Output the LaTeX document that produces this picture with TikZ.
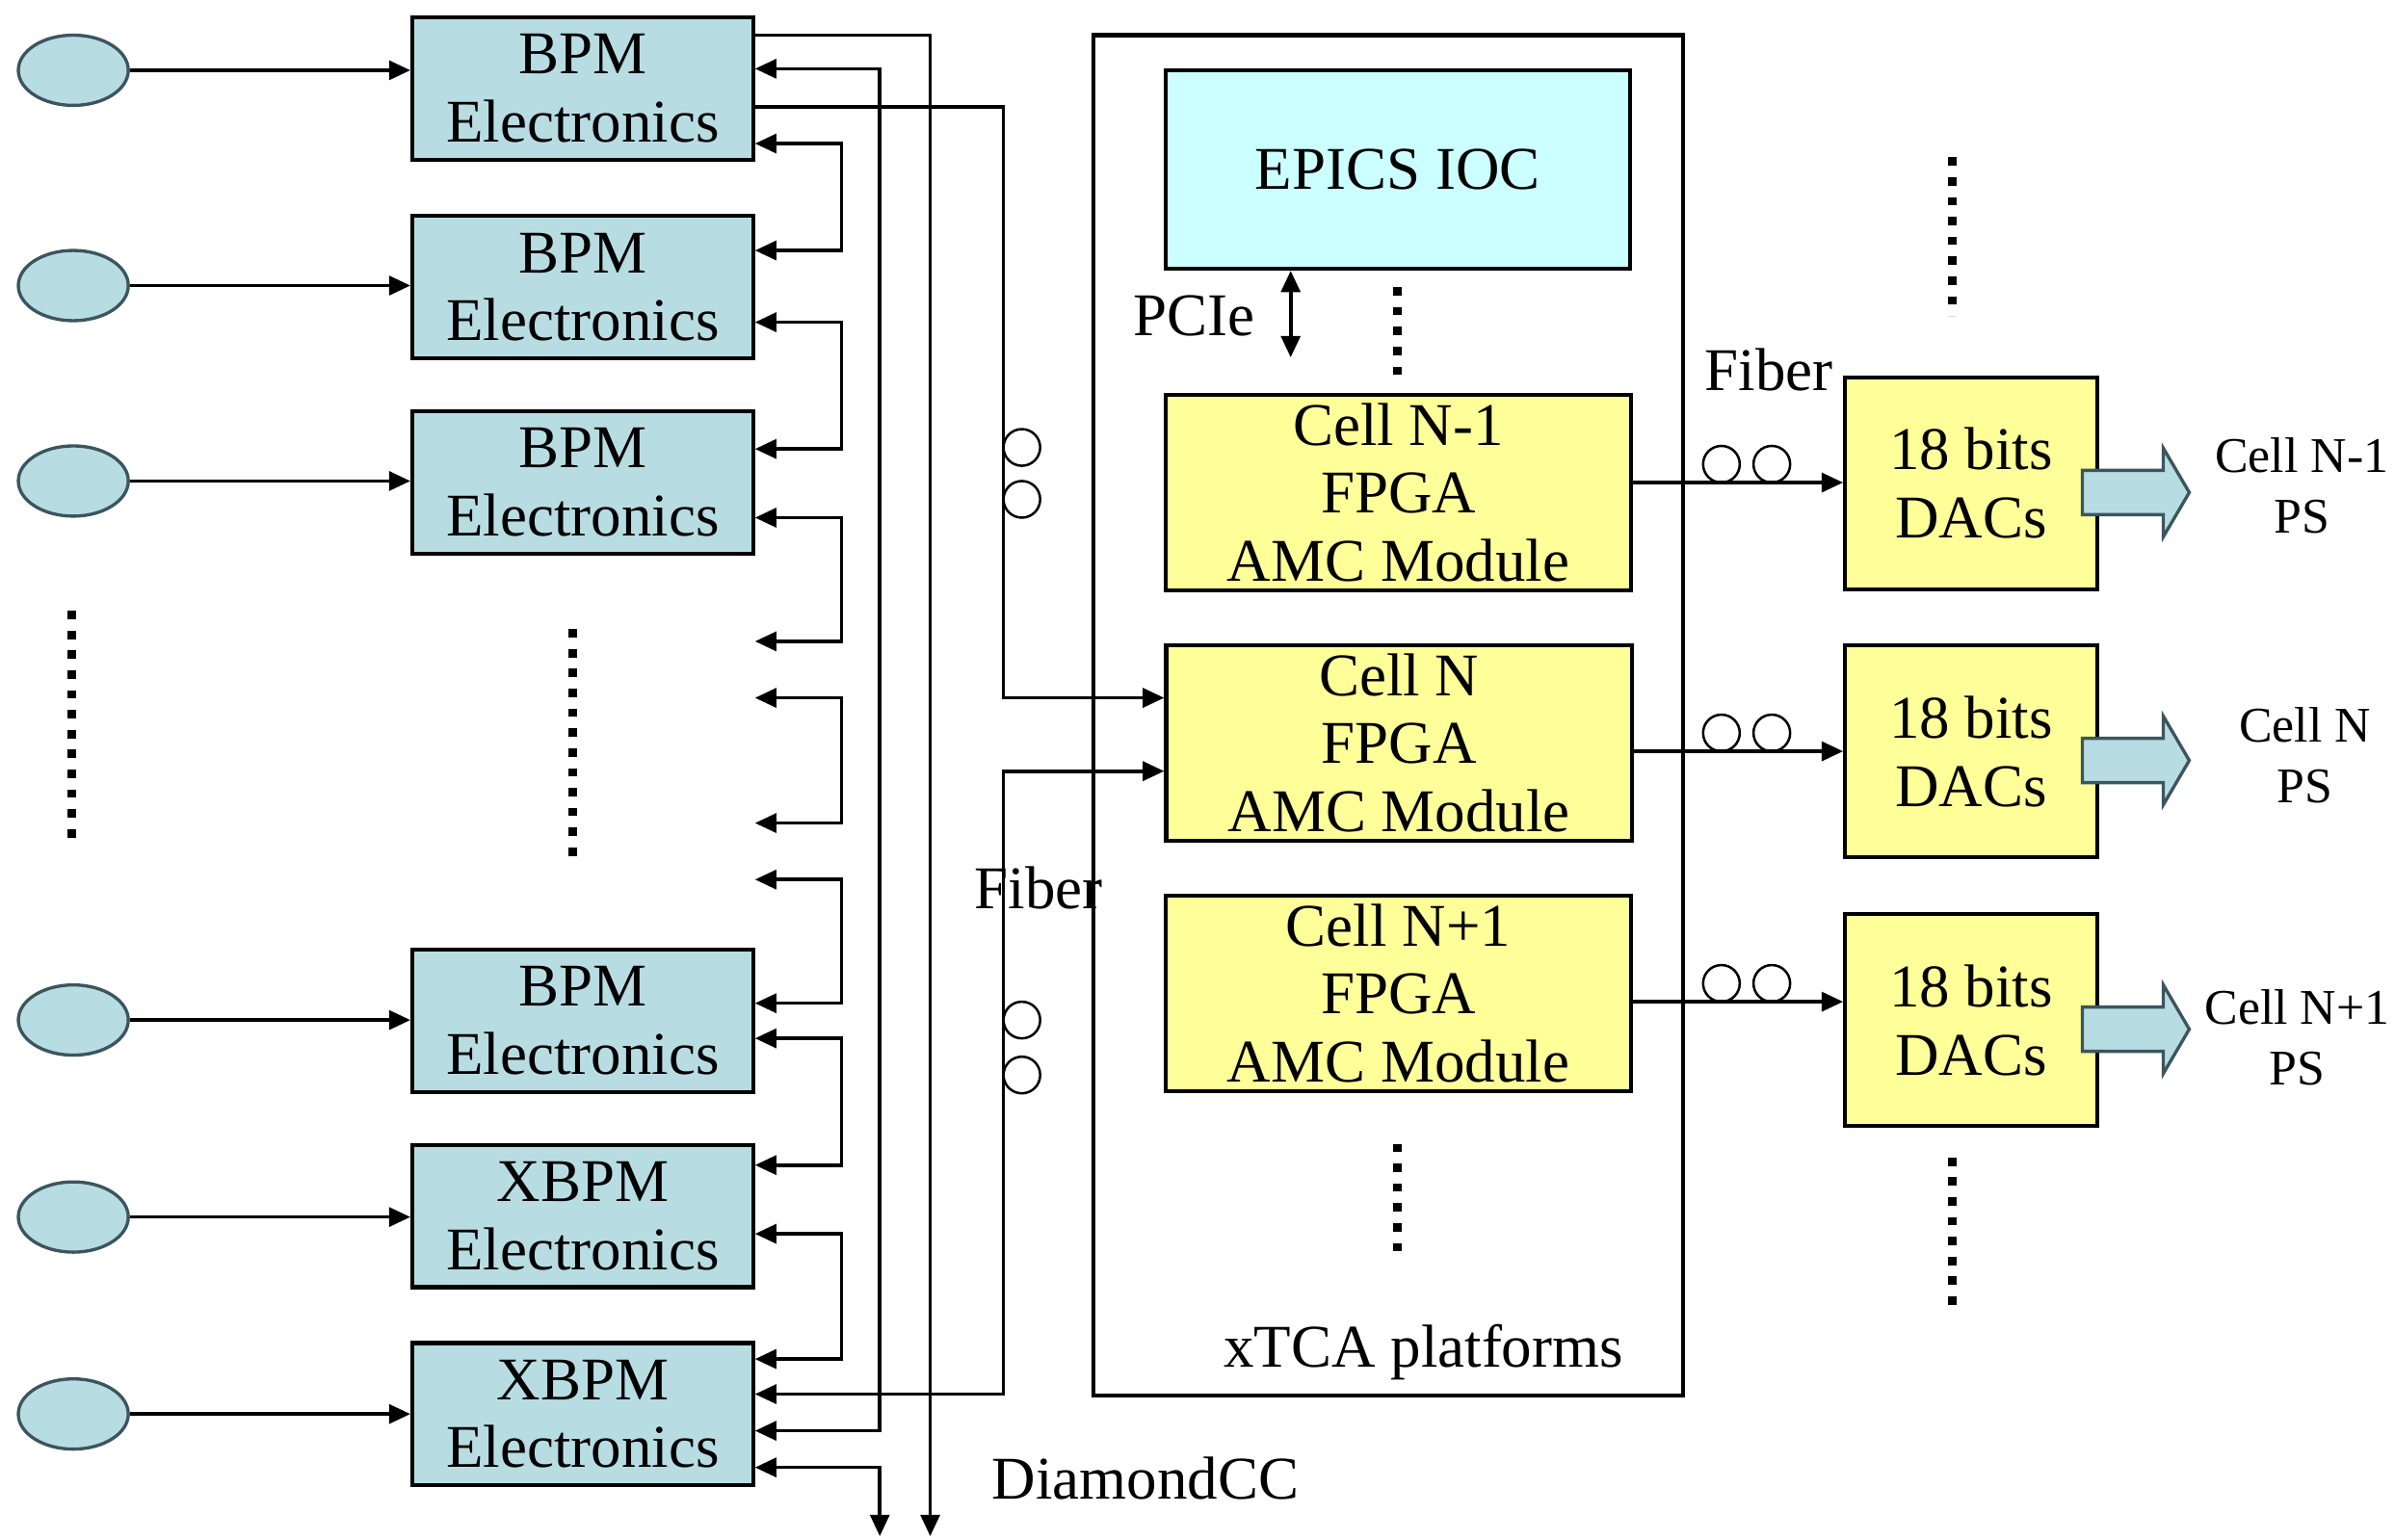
\documentclass[tikz,border=0pt]{standalone}
\usepackage{fontspec}
\setmainfont{Liberation Serif}
\usetikzlibrary{arrows.meta,shapes.geometric}

\definecolor{bpmfill}{RGB}{183,221,227}
\definecolor{iocfill}{RGB}{204,255,255}
\definecolor{amcfill}{RGB}{255,255,153}
\definecolor{rim}{RGB}{60,85,95}

\tikzset{
	>={Triangle[length=1.4mm,width=1.25mm]},
	wire/.style={line width=0.65pt},
	blk/.style={draw, line width=0.75pt, inner sep=0pt, align=center, font=\fontsize{11.3}{12.7}\selectfont},
	bpm/.style={blk, fill=bpmfill, minimum width=22.3mm, minimum height=9.3mm},
	amc/.style={blk, fill=amcfill, minimum width=30.5mm, minimum height=12.8mm},
	dac/.style={blk, fill=amcfill, minimum width=16.5mm, minimum height=13.9mm},
	pickup/.style={ellipse, draw=rim, line width=0.6pt, fill=bpmfill, minimum width=7.2mm, minimum height=4.6mm},
	coil/.style={circle, draw, line width=0.45pt, minimum size=2.4mm, inner sep=0pt},
	txt/.style={inner sep=0pt, font=\fontsize{11.3}{12.7}\selectfont},
	pstxt/.style={inner sep=0pt, align=center, font=\fontsize{9.3}{11.4}\selectfont},
	more/.style={line width=0.55mm, dash pattern=on 0.55mm off 0.75mm},
	fat/.style={draw=rim, line width=0.6pt, fill=bpmfill}
}

\begin{document}
\begin{tikzpicture}[x=0.1mm,y=-0.1mm]
	\def \xloop{ 551 };
	\def \xring{ 576 };
	\def \xcc{ 609 };
	\def \xfib{ 657 };
	\useasboundingbox (0,0) rectangle (1568,1008);

	\node[pickup] (s1) at (48,46) {};
	\node[pickup] (s2) at (48,187) {};
	\node[pickup] (s3) at (48,315) {};
	\node[pickup] (s4) at (48,668) {};
	\node[pickup] (s5) at (48,797) {};
	\node[pickup] (s6) at (48,926) {};
	\node[bpm] (e1) at (381.5,58) {BPM\\Electronics};
	\node[bpm] (e2) at (381.5,188) {BPM\\Electronics};
	\node[bpm] (e3) at (381.5,316) {BPM\\Electronics};
	\node[bpm] (e4) at (381.5,668.5) {BPM\\Electronics};
	\node[bpm] (e5) at (381.5,796.5) {XBPM\\Electronics};
	\node[bpm] (e6) at (381.5,926) {XBPM\\Electronics};

	\node[draw, line width=0.75pt, minimum width=38.6mm, minimum height=89.1mm] (xtca) at (909,468.5) {};
	\node[blk, fill=iocfill, minimum width=30.4mm, minimum height=13mm] (ioc) at (915,111) {EPICS IOC};
	\node[amc] (amcA) at (915.5,322.5) {Cell N-1\\FPGA\\AMC Module};
	\node[amc] (amcB) at (916,486.5) {Cell N\\FPGA\\AMC Module};
	\node[amc] (amcC) at (915.5,650.5) {Cell N+1\\FPGA\\AMC Module};
	\node[dac] (dacA) at (1290.5,316.5) {18 bits\\DACs};
	\node[dac] (dacB) at (1290.5,492) {18 bits\\DACs};
	\node[dac] (dacC) at (1290.5,668) {18 bits\\DACs};
	\node[pstxt] (psA) at (1507,318) {Cell N-1\\PS};
	\node[pstxt] (psB) at (1509,494.5) {Cell N\\PS};
	\node[pstxt] (psC) at (1504,679.5) {Cell N+1\\PS};

	\node[txt, anchor=base] (pcie) at (782,219.5) {PCIe};
	\node[txt, anchor=base] (fibA) at (1158,255.5) {Fiber};
	\node[txt, anchor=base] (fibB) at (680,595) {Fiber};
	\node[txt, anchor=base] (plat) at (932,895.5) {xTCA platforms};
	\node[txt, anchor=base] (dcc) at (750,982) {DiamondCC};

	\coordinate (g1) at (e3.east |- 0,420);
	\coordinate (g2) at (e3.east |- 0,457);
	\coordinate (g3) at (e3.east |- 0,539);
	\coordinate (g4) at (e3.east |- 0,576);
	\coordinate (ccA) at (\xring,1006);
	\coordinate (ccB) at (\xcc,1006);
	\coordinate (pcieend) at (845,234);

	\foreach \i in {1,...,6}
		\draw[wire,->] (s\i) -- (s\i -| e\i.west);

	\draw[wire,->] (e1.east |- 0,23) -| (ccB);
	\draw[wire,<->] (e1.east |- 0,45) -| (\xring,937) -- (e6.east |- 0,937);
	\draw[wire,->] (e1.east |- 0,70) -| (\xfib,457) -- (amcB.west |- 0,457);
	\draw[wire,<->] (e1.east |- 0,94) -| (\xloop,164) -- (e2.east |- 0,164);
	\draw[wire,<->] (e2.east |- 0,211) -| (\xloop,294) -- (e3.east |- 0,294);
	\draw[wire,<->] (e3.east |- 0,339) -| (\xloop,420) -- (g1);
	\draw[wire,<->] (g2) -| (\xloop,539) -- (g3);
	\draw[wire,<->] (g4) -| (\xloop,657) -- (e4.east |- 0,657);
	\draw[wire,<->] (e4.east |- 0,680) -| (\xloop,763) -- (e5.east |- 0,763);
	\draw[wire,<->] (e5.east |- 0,808) -| (\xloop,890) -- (e6.east |- 0,890);
	\draw[wire,<->] (e6.east |- 0,913) -| (\xfib,505) -- (amcB.west |- 0,505);
	\draw[wire,<->] (e6.east |- 0,961) -| (ccA);

	\node[coil] (k1) at (669,293) {};
	\node[coil] (k2) at (669,327) {};
	\node[coil] (k3) at (669,668) {};
	\node[coil] (k4) at (669,704) {};

	\draw[wire,<->] (ioc.south -| pcieend) -- (pcieend);

	\draw[wire,->] (amcA.east |- 0,316) -- (dacA.west |- 0,316);
	\draw[wire,->] (amcB.east |- 0,492) -- (dacB.west |- 0,492);
	\draw[wire,->] (amcC.east |- 0,656) -- (dacC.west |- 0,656);
	\node[coil] (k5) at (1127,304) {};
	\node[coil] (k6) at (1160,304) {};
	\node[coil] (k7) at (1127,480) {};
	\node[coil] (k8) at (1160,480) {};
	\node[coil] (k9) at (1127,644) {};
	\node[coil] (k10) at (1160,644) {};

	\foreach \d in {dacA,dacB,dacC}
		\draw[fat, shift={(\d.east)}] (-11,-8.5) -- (42,-8.5) -- (42,-23) -- (59,6) -- (42,35) -- (42,20.5) -- (-11,20.5) -- cycle;

	\draw[more] (47,400) -- (47,552);
	\draw[more] (375,412) -- (375,562);
	\draw[more] (915,188) -- (915,248);
	\draw[more] (915,749) -- (915,822);
	\draw[more] (1278,103) -- (1278,207);
	\draw[more] (1278,758) -- (1278,860);
\end{tikzpicture}
\end{document}
